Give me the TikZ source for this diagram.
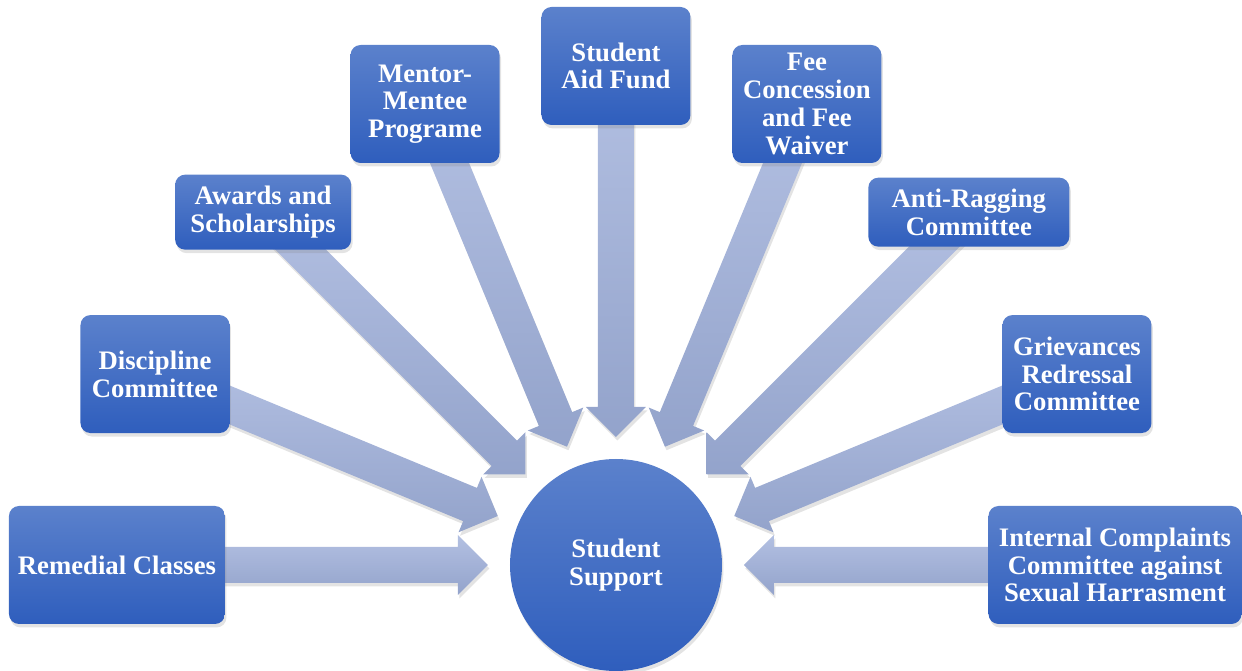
\documentclass[tikz,border=0pt]{standalone}
\usepackage{fontspec}
\setmainfont{Liberation Serif}
\usetikzlibrary{calc,backgrounds,shadows}

\definecolor{boxtop}{HTML}{5B81CC}
\definecolor{boxbot}{HTML}{2F5EBD}
\definecolor{arrtop}{HTML}{B3C0E2}
\definecolor{arrbot}{HTML}{93A3CB}

\tikzset{
    leaf/.style={rectangle, rounded corners=0.2cm, top color=boxtop, bottom color=boxbot,
        text=white, align=center, inner sep=0pt,
        font=\fontsize{15.2}{15.8}\selectfont\bfseries,
        drop shadow={opacity=0.22, shadow xshift=0.03cm, shadow yshift=-0.07cm}},
    hubnode/.style={leaf, circle, rounded corners=0pt, minimum size=4.24cm},
    bigarrow/.style={top color=arrtop, bottom color=arrbot,
        drop shadow={opacity=0.22, shadow xshift=0.03cm, shadow yshift=-0.07cm}}
}

\begin{document}
\begin{tikzpicture}
    \useasboundingbox (-12.32,-2.12) rectangle (12.52,11.30);

    % Centre
    \node[hubnode] (hub) at (0,0) {Student\\Support};

    % Surrounding boxes, one every 22.5 degrees
    \foreach \i/\w/\h/\txt in {
        1/4.32/2.36/{Remedial Classes},
        2/2.98/2.36/{Discipline\\Committee},
        3/3.52/1.50/{Awards and\\Scholarships},
        4/2.98/2.36/{Mentor-\\Mentee\\Programe},
        5/2.98/2.36/{Student\\Aid Fund},
        6/2.98/2.36/{Fee\\Concession\\and Fee\\Waiver},
        7/4.02/1.38/{Anti-Ragging\\Committee},
        8/2.98/2.36/{Grievances\\Redressal\\Committee},
        9/5.06/2.36/{Internal Complaints\\Committee against\\Sexual Harrasment}} {
        \node[leaf, minimum width=\w cm, minimum height=\h cm] (b\i)
            at ({180-22.5*(\i-1)}:9.98) {\txt};
    }

    % Block arrows into the centre
    \begin{pgfonlayer}{background}
        \foreach \i in {1,...,9} {
            \shade[bigarrow] ($(hub)!2.56cm!(b\i)$)
                -- ($(hub)!3.16cm!(b\i)!0.6cm!90:(b\i)$)
                -- ($(hub)!3.16cm!(b\i)!0.36cm!90:(b\i)$)
                -- ($(b\i)!0.36cm!-90:(hub)$)
                -- ($(b\i)!0.36cm!90:(hub)$)
                -- ($(hub)!3.16cm!(b\i)!0.36cm!-90:(b\i)$)
                -- ($(hub)!3.16cm!(b\i)!0.6cm!-90:(b\i)$)
                -- cycle;
        }
    \end{pgfonlayer}
\end{tikzpicture}
\end{document}
